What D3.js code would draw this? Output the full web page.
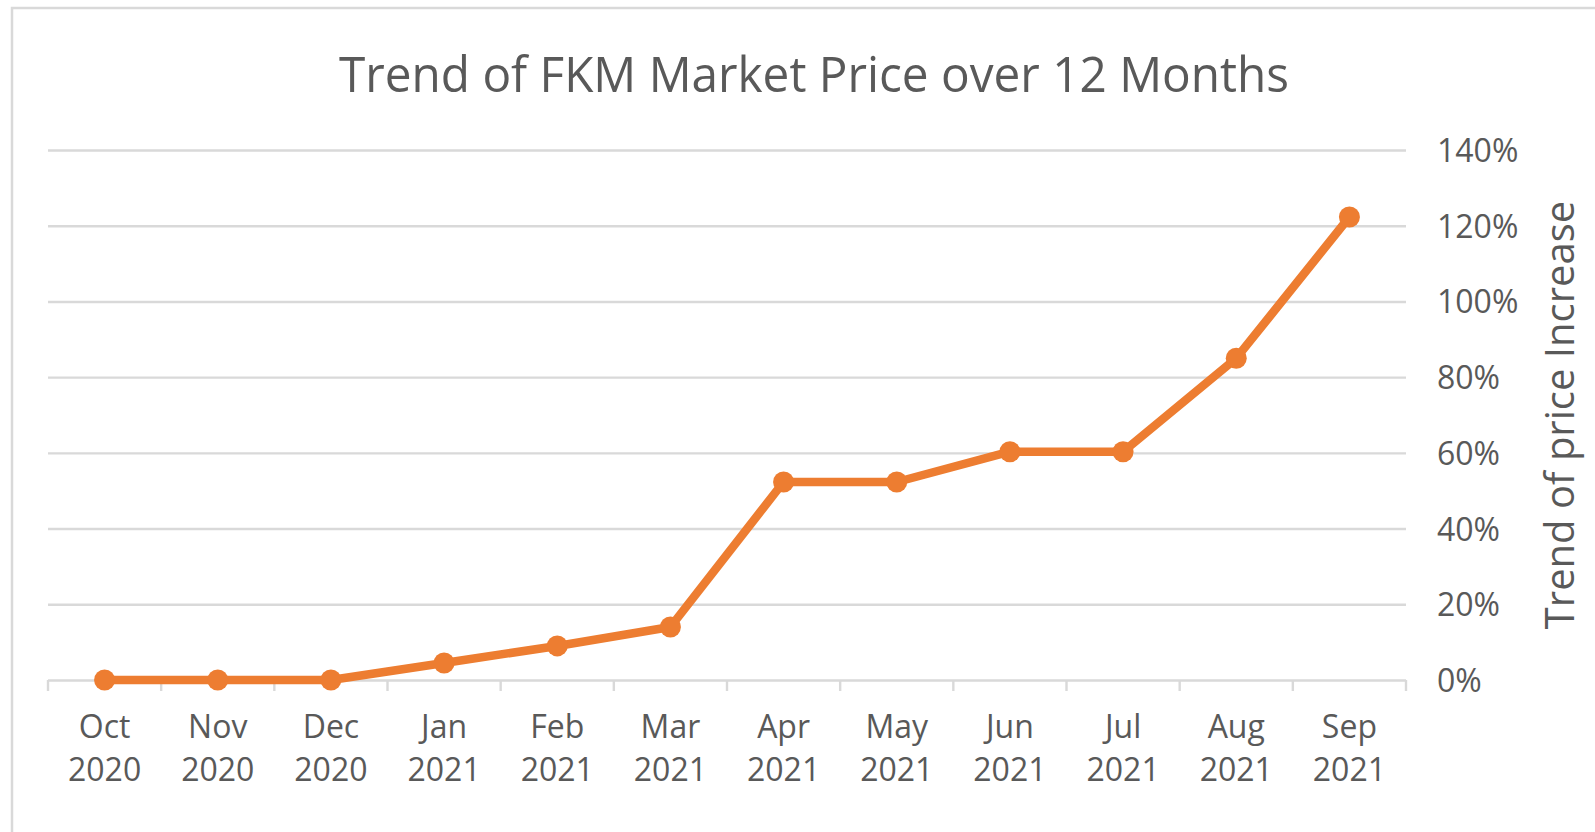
<!DOCTYPE html>
<html>
<head>
<meta charset="utf-8">
<script src="https://cdn.jsdelivr.net/npm/d3@7"></script>
<style>
  body { margin: 0; background: #fff; }
  text { font-family: "Open Sans", sans-serif; fill: #595959; }
</style>
</head>
<body>
<div id="chart"></div>
<script>
// months shown on the x axis (two line labels)
let months = ["Oct", "Nov", "Dec", "Jan", "Feb", "Mar", "Apr", "May", "Jun", "Jul", "Aug", "Sep"]
let years = ["2020", "2020", "2020", "2021", "2021", "2021", "2021", "2021", "2021", "2021", "2021", "2021"]
// price increase in percent
let priceIncrease = [0, 0, 0, 4.5, 9, 14, 52.3, 52.3, 60.3, 60.3, 85, 122.3]
let yTicks = [0, 20, 40, 60, 80, 100, 120, 140]

let width = 1595, height = 832
let svg = d3.select("#chart")
            .append("svg")
            .attr("width", width)
            .attr("height", height)

// outer chart frame
svg.append("rect")
   .attr("x", 12)
   .attr("y", 8)
   .attr("width", width)
   .attr("height", height)
   .style("fill", "none")
   .style("stroke", "#d9d9d9")
   .style("stroke-width", 2.5)

let plotLeft = 48, plotRight = 1406, plotTop = 150, plotBottom = 680

let xScale = d3.scaleBand()
               .domain(d3.range(months.length))
               .range([plotLeft, plotRight])
let yScale = d3.scaleLinear()
               .domain([0, 140])
               .range([plotBottom, plotTop])

// gridlines + right side labels
let yAxis = svg.append("g")
               .attr("transform", "translate(" + plotRight + ",0)")
               .call(d3.axisRight(yScale)
                       .tickValues(yTicks)
                       .tickSize(-(plotRight - plotLeft))
                       .tickPadding(31)
                       .tickFormat(d => d + "%"))
yAxis.select(".domain").remove()
yAxis.selectAll("line")
     .style("stroke", "#d9d9d9")
     .style("stroke-width", 2.4)
yAxis.selectAll("text")
     .attr("dy", "0.36em")
     .style("font-size", "32px")
     .style("fill", "#595959")
     .style("font-family", "'Open Sans', sans-serif")

// tick marks on category boundaries below the zero line
let bounds = d3.range(months.length + 1).map(i => i < months.length ? xScale(i) : plotRight)
svg.append("g")
   .selectAll("line")
   .data(bounds)
   .join("line")
   .attr("x1", d => d)
   .attr("x2", d => d)
   .attr("y1", plotBottom)
   .attr("y2", plotBottom + 11)
   .style("stroke", "#d9d9d9")
   .style("stroke-width", 2.4)

// x labels
let xLab = svg.append("g")
              .selectAll("text")
              .data(months)
              .join("text")
              .attr("text-anchor", "middle")
              .attr("x", (d, i) => xScale(i) + xScale.bandwidth() / 2)
              .attr("y", 738)
              .style("font-size", "32px")
xLab.append("tspan")
    .text(d => d)
xLab.append("tspan")
    .attr("x", (d, i) => xScale(i) + xScale.bandwidth() / 2)
    .attr("dy", 43)
    .text((d, i) => years[i])

// the line
let line = d3.line()
             .x((d, i) => xScale(i) + xScale.bandwidth() / 2)
             .y(d => yScale(d))
svg.append("path")
   .datum(priceIncrease)
   .attr("d", line)
   .style("fill", "none")
   .style("stroke", "#ed7d31")
   .style("stroke-width", 8.5)
   .style("stroke-linejoin", "round")

svg.append("g")
   .selectAll("circle")
   .data(priceIncrease)
   .join("circle")
   .attr("cx", (d, i) => xScale(i) + xScale.bandwidth() / 2)
   .attr("cy", d => yScale(d))
   .attr("r", 10.5)
   .style("fill", "#ed7d31")

// title
let title = svg.append("text")
               .attr("x", 814)
               .attr("y", 92)
               .attr("text-anchor", "middle")
               .style("font-size", "50px")
               .text("Trend of FKM Market Price over 12 Months")
if (title.node().getComputedTextLength() > 950) {
    title.attr("textLength", 950).attr("lengthAdjust", "spacingAndGlyphs")
}

// right axis title
svg.append("text")
   .attr("transform", "translate(1574,415) rotate(-90)")
   .attr("text-anchor", "middle")
   .style("font-size", "40px")
   .text("Trend of price Increase")
</script>
</body>
</html>
